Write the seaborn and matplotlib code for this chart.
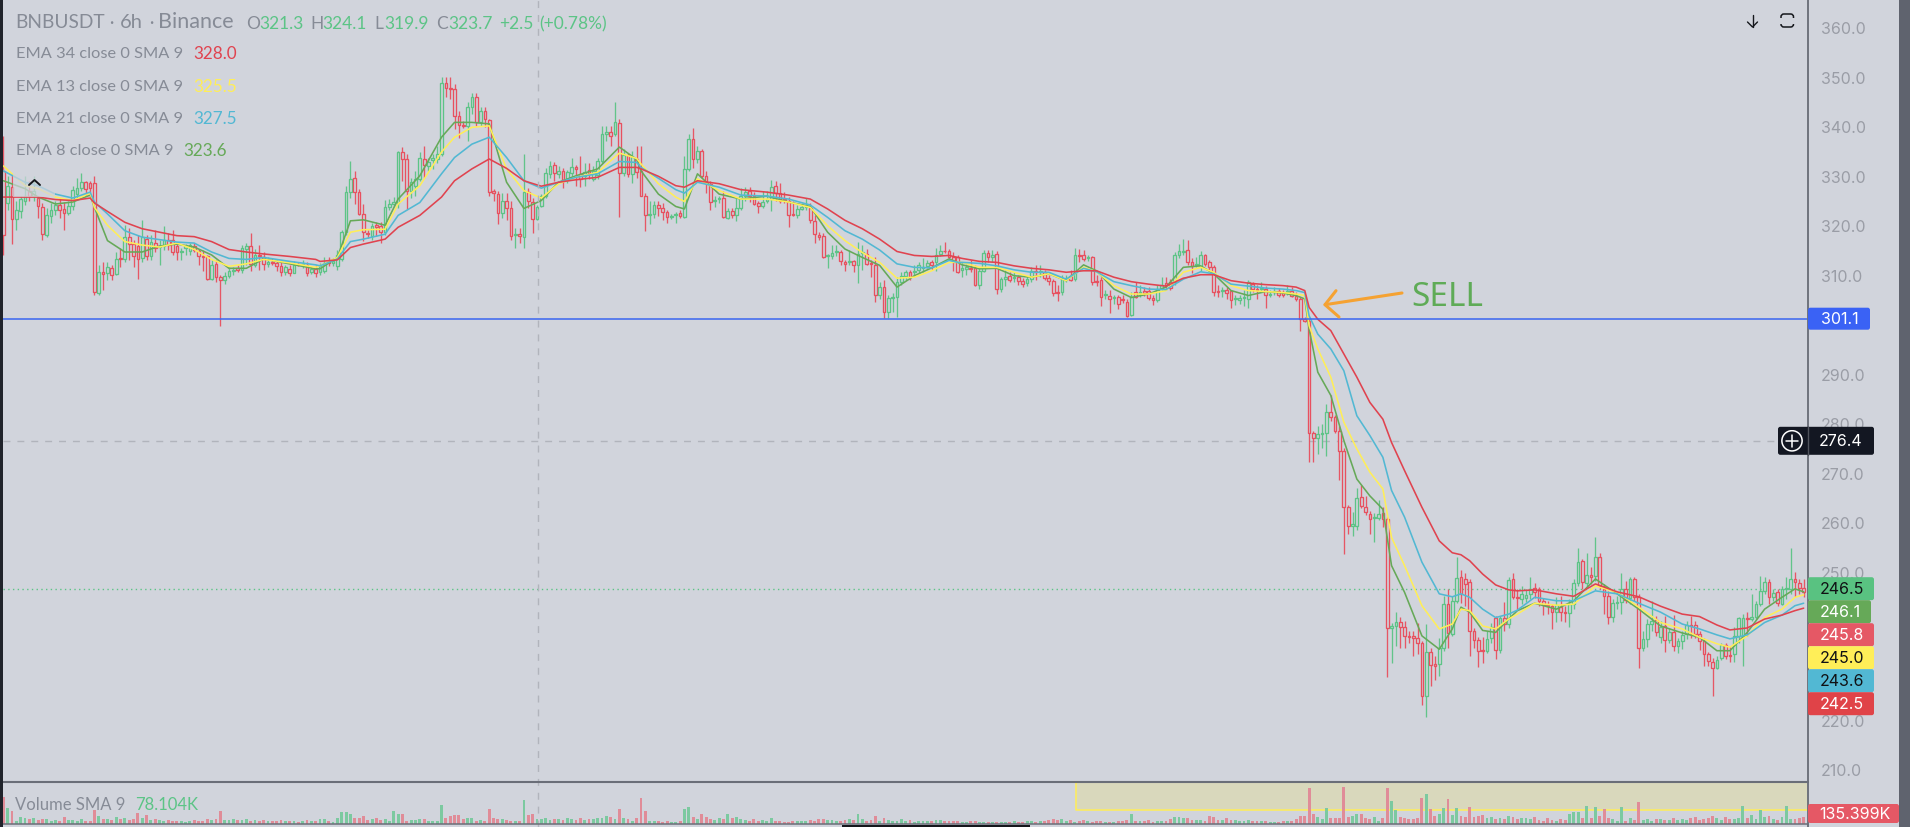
import matplotlib
matplotlib.use("Agg")
import matplotlib.pyplot as plt
import pandas as pd
import seaborn as sns
from matplotlib.lines import Line2D
from matplotlib.patches import Circle, FancyBboxPatch, Rectangle

# --- Data ---
OPENS = [
    331,324.5,327.7,321.3,322.8,325,327,326,325.5,323.6, 318,321.8,323,324,323.2,322.4,323.9,326.3,327.5,328.7,
    328.5,328.5,306.4,310.6,310.4,311.4,310.1,313.4,313.1,317.7, 316.2,315.8,313.3,317.2,313.7,316.4,315.6,315.8,317.1,317,
    315.9,314.6,315.5,314.9,315.9,314.9,313.8,313.7,309.1,312.2, 309.5,308.9,309.7,310.8,311.3,310.9,315.2,315.8,312,314,
    313.6,312.1,312.6,312.3,311.7,310.5,311.2,310.4,312.2,311.9, 312,310.6,311.1,310.5,310.7,312.6,312.4,311.8,313.2,318.6,
    326.7,329.5,326.7,322.3,318.5,317.9,320,319.9,318.6,323.7, 324.4,324.6,334.8,333.3,327,328,329.4,333.4,332,333.1,
    333.4,334.4,348.8,347.8,347.5,342,340.2,340.1,344,346, 340.8,343,341.3,326.9,326.4,322.5,325,323.4,318,318.2,
    317.6,326.8,324.8,321.3,323.8,326,330.4,332.2,330.4,330.9, 329.4,330.5,331.7,330.4,330,331.1,329.4,330.2,332.9,338.5,
    338.8,338.5,340.7,330.6,334.2,330.4,333.4,331,325.9,322.1, 322.3,324.1,323.4,322.6,321.7,322,322.4,321.7,331.4,337.5,
    333.3,335,329.9,328.4,324.9,325.3,325.5,321.4,322.8,322, 323.4,325.9,327,326,324.5,323.8,325,325.3,327.9,326.5,
    325.4,325,322.2,322,323.2,323.7,323.5,320.9,318,317.8, 313.7,313.7,314.6,314.5,312.5,312.5,312.7,312,314.3,314.2,
    312.4,312,305.9,307.5,302.4,305.3,305.4,308.6,309.7,310.6, 310.5,310.9,311.3,311.7,312.5,312.5,314.2,314.9,314.7,313.6,
    313.5,311,311.2,311.4,311.3,308,310.8,314.4,313.5,314.2, 307.1,309.2,309.7,309.3,309.5,308.8,308.3,309.1,310.8,310.5,
    310.5,309.3,308.8,306.5,306.5,309.1,309.8,309.1,314,313.9, 313.3,313.5,308.8,309,306,305.8,305.2,305.5,305,304.5,
    301.9,306.5,306.3,306.8,306.7,305.2,304.8,307.4,308.3,308.5, 308.5,313.9,314.6,315.1,312.6,312,311.7,313.9,312.5,311.5,
    306.7,306.7,307,306.8,305,304.8,305.3,305,308.1,307.2, 307.1,307.1,306,306.6,306.8,306.5,306.5,306.8,305.8,305,
    301.1,300.7,278.1,276.9,277.8,278.1,282.3,281.2,278.5,274.4, 263,259.2,259.3,265,263,261.6,260.8,260.8,261.8,260.6,
    238.6,239,239.9,238.7,237,236.9,236.6,235.5,224.9,233.7, 231.3,231.3,234.5,243.5,237.4,244.1,248.8,248.4,247.8,237.9,
    236.2,234.1,234,236.5,240.7,234.1,240.7,239.4,248.4,244.9, 244.4,244.6,245.5,246.6,246.5,244.1,243.3,243.1,241.9,242.9,
    241.9,241.6,243.4,247.7,252.2,247.7,249.4,249.2,252.9,246.5, 245.1,240.9,243.6,243.9,246.5,244.6,248.5,244.8,234.5,236.4,
    239.4,240.3,236.7,238.9,236.2,237.8,234.9,236,237.4,239.2, 239.2,237.4,235.9,233.3,231.8,230.6,232.5,235.1,233.2,233.3,
    236.9,237,240.7,240.5,240.8,243.4,246.1,247.8,244.9,245.8, 243.5,246.5,246.5,248.5,247.7,246.6,
]
CLOSES = [
    318,328,321.3,323,325.3,326,326,327,323.9,318.3, 322,323,324,323,322.4,323.8,327.2,327.5,328.7,327.4,
    327.6,306.6,310.6,310.2,311.5,310,313.2,313.1,317.6,316.2, 313.7,313.2,317.6,313.7,316.6,315.4,315.8,317.1,316,314.5,
    314.6,314.9,315.8,316,315,313.7,313.6,309.2,312,309.5, 308.9,309.7,310.8,311,311,315.4,315.8,312.2,314,313.8,
    312.2,312.6,312.4,311.7,310.5,311.5,310.4,311.9,311.9,312.2, 310.4,311.2,310.3,311.8,312.3,312.4,312.7,313.9,318.6,326.7,
    329.4,326.7,322.3,318.6,318.2,319.9,319.6,318.6,323.6,324.4, 324.8,334.8,333.3,327,328.7,329.4,333.5,332.2,332.8,333.5,
    334.4,348.8,347.7,347.5,342,340.3,340,344,345.9,340.8, 343.2,341.5,326.8,326.6,322.5,325,323.4,317.9,318.2,317.9,
    326.8,325,321.3,323.6,325.9,330.5,332,330.6,331,329.2, 330.7,331.7,331.3,329.4,330.7,330.5,331,332.9,338.5,338.8,
    338,340.8,330.6,334.2,330.4,333.9,330.8,326,322.1,322.3, 324.1,323.4,322.6,321.6,321.9,322.3,321.8,331.4,337.5,333.3,
    335,329.9,328.6,324.7,325.1,325.6,321.6,322.8,322,323.4, 325.9,326.8,325.9,324.3,323.8,324.8,325.4,327.8,326.5,325,
    325.1,322.1,322,323.2,323.7,323.9,321,318.3,317.6,313.5, 313.9,314.4,314.8,312.7,312.1,312.7,312,314.2,314.5,312.2,
    312.1,305.9,307.5,302.4,305.2,305.5,308.5,309.7,310.6,309.5, 310.8,311.9,311.6,312.4,312,314,314.7,314.7,313.5,312.6,
    310.6,311.3,311.5,311.2,308,310.8,314.4,313.5,314,307.1, 309.1,309.5,309,309.5,308.8,308.1,309.1,310.8,310.5,310.7,
    309.3,308.8,306.4,306.3,309.1,309.3,309,313.9,313.7,313.2, 313.6,308.5,308.6,305.6,306.2,305,305.5,304.1,304.8,301.7,
    305.4,305.6,306.6,306.4,305.2,304.8,307.2,307.9,308,307.4, 313.9,314.9,314.8,312.6,311.7,312.2,313.9,312.2,311.5,306.6,
    306.5,306.9,306.3,304.8,305.2,305.2,305.5,308.5,307.1,307, 307.3,305.9,306.2,306.8,305.9,305.9,306.8,305.8,305.1,301.1,
    300.7,278.1,276.9,277.8,278.1,282.3,281.2,278.5,274.4,263, 259.3,259.6,264.8,263.2,262,260.6,261,261.6,260.6,238.5,
    239,239.9,238.7,236.9,236.8,236.6,235.5,224.9,233.7,231.1, 231,234.5,243.5,237.6,244.1,248.6,245.5,247.5,237.9,236.2,
    234,233.9,236.4,238.7,234.2,240.7,239.4,248.3,244.8,244.6, 245.4,245.3,246.5,245.8,244.1,243.2,243.1,241.9,243.2,241.8,
    241.7,243.4,247.7,252,247.8,249.3,248.8,252.9,247,245.1, 240.9,243.6,243.8,246.5,244.3,248.5,244.8,234.5,236.4,239.4,
    240.1,237.7,238.7,236.2,237.8,234.9,236,237.2,239.2,238.9, 237.4,236,233.3,232,230.6,232.2,235.1,233,233,236.9,
    240.6,240.7,240.4,240.8,243.4,246.1,247.8,244.8,245.7,243.6, 246.5,246.6,248.5,247.8,246.6,245.8,
]
HIGHS = [
    338,330,330.4,325,326,330,329,330,326,324.5, 323.5,324.5,325,325.5,324.7,325,328,329.5,330.5,329,
    329,330,312,312.5,312.5,312,314.5,315.5,320,319.5, 317,318,321,318,318,319,317,319.8,318.5,319,
    316.5,315.5,316.2,316.5,316.5,315.3,315,314,313,313, 310,310.5,311.5,311.6,312,316,316.5,318.5,315.3,316,
    314.5,313.5,313.3,313,312.5,312,312,312.7,312.5,313, 312.5,311.8,312,312.3,313.5,313.5,313.4,315,319,328,
    332.9,331,327.3,324.3,319,320.5,320.6,320.6,325.2,325.3, 325.8,335,335.8,334.4,329.5,331,334.8,336,333.5,334.4,
    336,350,350,349.9,348.5,343,341,345,346.8,346.8, 344,344,341.5,327.3,327,326.5,326.5,325,319.5,319.5,
    334.5,327.5,325.5,324,326.3,331.5,333,332.7,332,331.5, 331.2,333.5,332.2,334,332.5,332.5,332,333.6,340,340,
    340,345,341.5,335.5,334.7,335,336,336,326.5,325, 325,325,324.5,323,322.3,322.7,323,334,338.5,339.6,
    336,335.5,331,329,326,326,327,323.5,323.5,325.5, 327.5,327.7,327.7,326.7,325,327,327,329.2,329,328.5,
    326.8,325.8,325,324,324.5,325.5,324.5,322,318.6,318.5, 314.2,316,316,315,313,315,313,316.7,316,315.2,
    313,313.5,308.5,309,306,306.3,309.5,310.5,311,311, 312,312.5,313.3,313,313,315.5,316,316.6,315.2,314.5,
    314,312.5,312.2,313,312,311.5,315,315,315,314.7, 309.5,311,310.5,310.5,310,309.3,309.7,311.5,312,312,
    311,310,309.2,308,310,310,311,315.5,315.3,315, 314,313.8,310,309.5,307,307,306,306,306,305,
    306.5,308.5,308,307.5,307.5,306,308,309.5,309.5,309.2, 314.5,316.3,317.3,317,313.3,313.5,314.8,314.2,313,312,
    308,307.5,307.5,307,306,306,307,309,308.5,308, 308.5,307.8,307,307.5,307.3,307,308,307.5,306.5,305.5,
    301.5,301,278.5,279.5,279.8,283.8,285.7,281.7,279.5,275, 263.5,262,266.8,267.5,265.2,262.2,261.8,264.5,263,261,
    239.6,241.8,240.9,240,238,238,239.6,236,239.5,234.5, 233,236.5,245,246.5,245,252.9,250.3,249.8,248.5,238.5,
    236.8,236.8,238,239.6,241,241,243.9,249,249.8,246.5, 247,246.5,248.8,247.7,246.9,244.6,244,243.5,244.8,245,
    243,244.5,248.5,254.8,252.5,253.8,251,256.9,253.8,247.5, 246,244.5,245,249.8,248,248.9,248.9,245.5,238,240.5,
    244,241,240,241,238.5,241.3,236.5,238,240,241.1, 240,238,236.5,233.8,232.5,233,235.6,235.5,235,238.8,
    240.9,241.5,241.8,245.5,244,249.2,249,248.5,246.5,246.5, 247,248.8,254.7,250,248.5,248.5,
]
LOWS = [
    314,323,316.2,319,321.5,324,325,325,321.5,317, 317.7,320.5,322,321.5,319,322,323,325.5,327,326,
    326.5,306,306,307,309,308.9,310,311.5,312.6,313, 311.5,309.2,312.5,313,313,314.5,312,315,315,314,
    313,313,314,314,314.5,312,310.8,309,308.9,308.5, 299.6,308.2,309.3,310,310.5,310.3,312,310.7,311.5,311,
    311,311.5,311.9,310.8,309.8,310,309.8,310.3,311.7,311.4, 309.8,310.2,309.6,310,310.4,311.8,311.7,311,312.7,318,
    325.5,324.2,322,316.8,317.5,317,317.8,316.5,318,323, 323.8,323.5,329,323.2,325.5,326,329,329.5,331,331.3,
    332.5,334,346,345.5,339.5,337.6,339.6,337,342.5,340, 340,339.8,326,325,320.3,321.5,321,317,315.5,316.5,
    315.5,323.5,318.5,321,323.6,325.5,329.5,329,329.5,327.5, 328.5,329.5,328,327.8,328,329.3,329,329.4,332.5,337,
    336,338,321.6,330,329.8,328.5,329.5,326,318.8,320.3, 321.5,321.8,321,320.5,321.3,320.5,321.5,321.4,331,331.5,
    332.5,329.5,326.5,323,323.7,324.5,321.5,321.3,321.5,320.8, 323,325,324.8,324,322.5,323.5,324.5,322.8,325,324.5,
    324.5,319.6,321.8,321.5,323,323,320.5,316.5,317,313.3, 311.3,313.2,313.8,312,310.8,312,310.5,308.3,311,312,
    309.5,304.5,305,301.2,301.2,302.5,301.5,308,309,309, 309.5,310.3,310.5,311.3,310.9,310.8,313.8,314.3,313,310.8,
    310.3,309.5,310,310.5,307.7,307.2,310.5,312.5,312.5,306.2, 306.5,307.8,308.5,308.5,308,307.5,307.8,308.5,309,309.5,
    309,308,305.7,304.6,306,308.5,308.7,308.8,312.5,312.8, 312.8,308,307.8,303.7,305,302.3,304,303,304.2,301.5,
    301.7,305.2,305.5,305.8,304.8,303.8,304.5,306.9,307,307, 308,313.3,314,312,310.3,311.5,310.8,311.8,311,305.8,
    305.6,305.5,305,303.3,303.8,304,303.7,303.3,306.5,305, 306.5,303.3,305.5,306,305.6,305.6,306,305.5,304.6,298.7,
    300.4,272.2,272.2,273.8,275,273.4,280.5,278,268.5,253.5, 257.5,257.2,258.4,262.8,261.5,257.5,255.9,260.4,259,228.6,
    231.6,235,234.5,234.6,235.5,233,233.3,223,220.5,226.8, 228,228.8,234,234.5,237,243.6,243.6,243,233,234.5,
    230.8,231.5,233.5,235.5,232.4,233.5,238,238.5,244.5,242.4, 243.5,243.9,244.5,244.6,243,241.3,241.5,238.3,239.8,240,
    239.9,238.8,242.5,247,246.5,246.8,247.5,248,246.5,241.5, 239.5,239.8,242.5,241.5,243.7,243.5,244,230.5,234,234.7,
    238,237,235.5,233.8,235.5,233.9,233.5,234.3,236.3,236.5, 236.5,234.2,231,231,224.8,230.3,232.2,232.3,231.7,231.8,
    235.5,231,237,240,240.5,243,245.5,243.5,244,243, 243.2,244.5,245.5,244.9,245.5,244.9,
]
VOLUMES = [
    500,290,250,60,130,110,90,120,80,100, 90,60,70,60,130,70,80,60,90,60,
    50,260,150,90,100,80,130,90,110,70, 90,200,120,170,80,100,70,60,70,50,
    55,50,45,60,70,60,60,90,80,100, 240,80,70,100,80,70,90,60,70,60,
    70,50,50,60,70,50,60,60,40,50, 70,50,50,100,90,60,40,110,220,230,
    190,120,110,140,70,90,120,80,90,60, 240,190,190,60,70,80,90,90,50,60,
    60,350,120,150,170,160,90,110,110,60, 70,60,270,110,90,90,70,60,50,60,
    450,160,190,90,100,110,70,90,100,70, 110,90,80,110,80,100,100,110,120,140,
    130,90,270,110,100,60,120,480,240,60, 60,50,40,60,30,40,60,270,310,130,
    100,180,130,100,80,110,100,190,110,130, 100,80,50,90,60,70,60,110,50,60,
    40,40,60,50,50,60,70,60,90,90, 80,70,60,50,80,90,80,180,90,60,
    80,140,60,110,70,60,60,90,50,70, 40,60,50,50,60,80,70,60,60,50,
    50,40,40,50,50,40,40,40,40,40, 40,30,30,50,40,40,50,50,40,60,
    60,70,90,70,90,50,70,40,50,70, 60,40,60,50,40,40,40,60,60,70,
    190,60,50,60,70,40,50,50,60,90, 130,130,120,110,70,70,80,60,140,130,
    70,70,110,70,70,50,60,70,50,60, 50,50,30,40,40,60,60,60,90,140,
    140,670,190,130,100,290,120,120,110,690, 130,150,180,190,120,100,130,60,110,670,
    430,260,130,110,90,100,120,480,560,280, 150,180,290,470,170,290,140,130,310,130,
    150,170,110,130,100,110,90,150,130,90, 120,110,90,130,70,60,110,80,60,90,
    70,190,220,230,120,330,120,310,150,280, 110,100,60,320,60,110,70,400,70,90,
    60,100,90,70,80,120,80,90,70,110, 130,80,90,110,150,120,70,130,90,100,
    120,340,120,170,90,260,130,150,100,80, 130,340,100,90,120,135,
]
EMA_IDX = [
    0,5,8,12,16,20,21,24,28,32,36,40,44,48,52,56,60,66,72,
    73,77,80,83,88,91,96,101,104,108,112,116,120,124,128,132,137,142,146,
    147,151,155,157,160,165,170,176,181,186,190,194,198,202,206,210,214,218,220,
    221,225,229,233,237,241,245,249,252,256,260,264,268,272,276,279,283,287,291,295,298,300,
    301,303,306,309,312,315,318,320,323,327,331,334,336,338,341,344,347,349,
    353,358,362,367,372,377,382,387,391,395,398,402,406,410,413,415,
]
EMA_34 = [
    325.7,325.7,325.7,325.2,325,325.5,324.5,322.8,320.6,319.3,318.6,317.9,317.7,316.7,315.1,314.6,314.2,313.7,313.1,
    312.7,313,315.5,316.2,317.2,319.6,322,325.7,329,331.4,333.4,331.5,329,327.9,328.7,329.2,329.7,331.7,331.7,
    331.4,329.9,328,327.7,329,328.4,327.2,326.7,326.1,325.3,323.3,321,319.3,317.2,314.7,313.9,313.7,313.9,313.5,
    313.3,312.7,312.5,311.8,311.3,311,310.5,310.8,310.8,309.5,308.6,308.1,307.7,309.3,310,310,308.8,308.3,308,307.8,307.5,306.8,
    303.4,301,298.7,294,289.3,284.2,280.8,276.1,270.4,263,256.2,253.8,253.4,252.2,249.5,247.3,246.3,246.1,
    246.3,245.5,245,247.5,245.9,244.9,243,241.4,240.9,239.2,238.2,238.6,240.4,241.2,242.1,242.6,
]
EMA_21 = [
    331,328.7,328,326.3,325.5,326.7,324.7,322.3,318.9,317.6,317.1,316.6,316.4,314.6,313.3,313.1,313.5,312.7,312,
    311.8,313.2,316.7,317.2,318.2,322,324.6,330.4,333.7,336.4,337.8,333.7,329,327.5,328.7,329.7,330.4,332.9,332.7,
    331.7,329.5,327.2,326.5,328.7,327.7,326.1,325.9,325.3,324.1,321.6,318.9,317.2,315,312.2,311.5,311.4,312.9,312.5,
    312.5,312.3,311.8,311,310.5,310.5,309.1,311.3,310.6,308.6,307.8,307.1,307,309.1,310.6,310.2,308.1,307.7,307.3,307.1,306.8,306.4,
    301.7,298,295,290.6,281.5,277.5,273.1,266.4,261,251.9,245.5,244.9,245.5,244.8,242.4,240.7,241.4,242.2,
    244.8,244.1,244.1,246.1,245.5,243.6,241.8,239.4,238.4,237.2,236.4,237.2,239.7,241.2,243.1,243.6,
]
EMA_13 = [
    332,328,327.4,325.7,325,326.5,323.6,320,316.7,316,315.6,316.4,315.1,313.1,311.7,312.2,313.1,312.4,311.5,
    311.8,313.5,318.6,319.1,319.2,324.3,328,334.8,337.8,339.8,340.1,331.4,327,325.5,328.4,329.7,330.7,334.6,333.5,
    332.4,328.4,325.7,324.8,329.4,327,325.3,325.3,324.7,323.6,319.9,316.9,314.5,312.5,309.3,309.5,310.8,312.5,312.5,
    312.5,311.5,311.5,310.5,309.5,310.2,308.8,311.5,310.6,307.8,306.1,306.1,306.8,310.5,311.5,310.5,307.8,306.8,306.6,306.4,306.1,305.8,
    299.7,295,289.3,280.2,274.8,270.1,266.7,256.9,251.2,243.1,238.4,239.4,242.4,242.1,239,238.4,240.4,241.4,
    243.6,243.2,243.4,247.1,245.8,242.8,239.7,238.4,236.7,235.4,234.7,237,240.7,242.4,244.8,245.3,
]
EMA_8 = [
    329,327.4,325.7,324.3,324.7,326.1,323.6,316.9,314.6,314.6,315.8,316.2,315.6,314,311.3,311.3,313.2,312.2,311.2,
    311.2,313.5,320.9,321.1,320,325.3,330,337.8,340.8,340.8,340.5,328.7,323.4,325,328.7,330,331.4,335.8,333.3,
    331,326.3,323.8,323.3,330.4,326.3,325.3,325.9,324.7,323.8,318.6,315.2,313.5,311.9,307.5,309.8,311.4,313.2,312.5,
    312,311.2,311.3,309.8,309.5,310.2,308.8,312,310.8,307.1,305.4,306.1,307.5,311.5,311.8,310.2,306.8,305.8,306.6,306.3,305.8,305.1,
    299,290.3,285.6,276.5,268.7,265.3,262.6,251.2,245.8,237,234.3,238.4,242.8,241.8,238.1,237.7,240.4,242.1,
    243.6,242.4,244.1,248.5,245.5,242.4,239,237.6,236.7,234,234,237.7,242.4,244.8,246.5,245.9,
]
# 300, 240 and 230 sit behind the price tags in the screenshot
PRICE_TICKS = [360, 350, 340, 330, 320, 310, 290, 280, 270, 260, 250, 220, 210]
LEVEL_PRICE = 301.1
CROSS_PRICE = 276.4
LAST_PRICE = 246.5

# --- Configuration ---
W, H = 1910, 828
BG = '#d1d4dc'
UP = '#5cc486'
DOWN = '#e8505f'
GREY = '#868b96'
AXIS_GREY = '#9a9da6'
C_34, C_21, C_13, C_8 = '#e0434f', '#52b8d3', '#ffee58', '#66a958'
PANE_LEFT, PANE_RIGHT, PANE_SPLIT = 2.5, 1808, 783


def fx(x):
    return x / W


def fy(y):
    return 1 - y / H


def label(x, y, s, color=GREY, size=12, weight='normal', ha='left', family=None, z=30):
    kw = {'family': family} if family else {}
    return fig.text(fx(x), fy(y), s, color=color, fontsize=size, fontweight=weight, ha=ha, va='center', zorder=z, **kw)


def price_box(x0, x1, yc, h, color, text, text_color, size=11.5):
    fig.add_artist(FancyBboxPatch((fx(x0), fy(yc + h / 2)), fx(x1 - x0), h / H,
                                  boxstyle='round,pad=0,rounding_size=0.0012', mutation_aspect=W / H,
                                  transform=fig.transFigure, fc=color, ec='none', zorder=20))
    if text:
        label((x0 + x1) / 2 + 1, yc, text, color=text_color, size=size, ha='center', family='Inter', z=31)


sns.set_theme(style='white')
plt.rcParams['font.family'] = ['Lato', 'DejaVu Sans']

fig = plt.figure(figsize=(W / 100, H / 100), dpi=100, facecolor=BG)
ax = fig.add_axes([fx(PANE_LEFT), fy(PANE_SPLIT), fx(PANE_RIGHT - PANE_LEFT), PANE_SPLIT / H], facecolor=BG)
vol_ax = fig.add_axes([fx(PANE_LEFT), fy(825), fx(PANE_RIGHT - PANE_LEFT), (825 - PANE_SPLIT) / H], facecolor=BG)

# --- Candles ---
idx = list(range(len(OPENS)))
colors = [UP if c >= o else DOWN for o, c in zip(OPENS, CLOSES)]
ax.vlines(idx, LOWS, HIGHS, colors=colors, lw=0.95, alpha=0.95, zorder=2)
ax.bar(idx, [abs(c - o) for o, c in zip(OPENS, CLOSES)], bottom=[min(o, c) for o, c in zip(OPENS, CLOSES)],
       width=0.62, facecolor=BG, edgecolor=colors, linewidth=0.95, zorder=3)

# --- EMA lines ---
for values, color, z in [(EMA_8, C_8, 4), (EMA_13, C_13, 5), (EMA_21, C_21, 6), (EMA_34, C_34, 7)]:
    sns.lineplot(x=EMA_IDX, y=values, color=color, linewidth=1.15, estimator=None, errorbar=None, ax=ax, zorder=z)

ax.axhline(LEVEL_PRICE, color='#3a66f0', lw=1.1, zorder=8)
ax.axhline(LAST_PRICE, color=UP, lw=1.0, ls=(0, (1, 2.4)), zorder=1)
ax.set_xlim(-0.2, 416)
ax.set_ylim(207.46, 365.74)
ax.set_xticks([])
ax.set_yticks(PRICE_TICKS, [f'{p:.1f}' for p in PRICE_TICKS], family='Inter')
ax.yaxis.tick_right()
ax.tick_params(axis='y', length=0, pad=9, labelsize=11.5, labelcolor=AXIS_GREY, zorder=1)
ax.set(xlabel='', ylabel='')

# --- Volume pane ---
vol_df = pd.DataFrame({'i': idx, 'vol': VOLUMES, 'side': ['up' if c == UP else 'down' for c in colors]})
sns.barplot(data=vol_df, x='i', y='vol', hue='side', palette={'up': '#7cc9a0', 'down': '#e08c98'},
            native_scale=True, dodge=False, width=0.66, saturation=1, legend=False, linewidth=0, ax=vol_ax, zorder=3)
vol_ax.set_xlim(-0.2, 416)
vol_ax.set_ylim(0, 780)
vol_ax.set_xticks([])
vol_ax.set_yticks([])
vol_ax.set(xlabel='', ylabel='')
vol_ax.add_patch(Rectangle((fx(1075.5), fy(811)), fx(PANE_RIGHT - 1075.5), 27 / H, transform=fig.transFigure,
                           fc='#d9d8bc', ec='none', zorder=1))
vol_ax.add_line(Line2D([fx(1075.5), fx(1075.5), fx(PANE_RIGHT)], [fy(784), fy(811), fy(811)], color=C_13, lw=1.1,
                       transform=fig.transFigure, zorder=2))

for a in (ax, vol_ax):
    for name in ('top', 'left', 'bottom', 'right'):
        a.spines[name].set_visible(False)

# --- Borders, crosshair ---
fig.add_artist(Rectangle((0, 0), fx(PANE_LEFT), 1, transform=fig.transFigure, fc='#20232b', ec='none', zorder=15))
fig.add_artist(Rectangle((fx(1899), 0), fx(11), 1, transform=fig.transFigure, fc='#5f636e', ec='none', zorder=15))
fig.add_artist(Rectangle((fx(842), 0), fx(188), 2 / H, transform=fig.transFigure, fc='#15171c', ec='none', zorder=15))
fig.add_artist(Line2D([fx(1808), fx(1808)], [0, 1], color='#6f737d', lw=1.4, zorder=14))
fig.add_artist(Line2D([fx(PANE_LEFT), fx(1808)], [fy(PANE_SPLIT)] * 2, color='#6a6e78', lw=1.5, zorder=14))
fig.add_artist(Line2D([fx(PANE_LEFT), fx(1808)], [fy(825)] * 2, color='#6a6e78', lw=1.1, zorder=14))
fig.add_artist(Line2D([fx(537.5)] * 2, [0, 1], color='#b1b4bc', lw=1.0, ls=(0, (5, 5)), zorder=9))
ax.axhline(CROSS_PRICE, color='#b1b4bc', lw=1.0, ls=(0, (5, 5)), zorder=1)

# faded patch behind the collapse button
fig.add_artist(Rectangle((fx(13), fy(198)), fx(42), 25 / H, transform=fig.transFigure, fc=BG, ec='none', alpha=0.72, zorder=12))
fig.add_artist(Line2D([fx(29), fx(34.5), fx(40)], [fy(186), fy(181), fy(186)], color='#15171c', lw=1.4, zorder=13))

# --- Annotation ---
fig.add_artist(Line2D([fx(1402), fx(1325)], [fy(294), fy(305.7)], color='#f5a232', lw=2.2, zorder=13))
fig.add_artist(Line2D([fx(1336), fx(1325), fx(1339)], [fy(291.7), fy(305.7), fy(318)], color='#f5a232', lw=2.2, zorder=13))
label(1411, 298, 'SELL', color='#5fab57', size=24, family='Noto Sans')

# --- Legend text ---
label(15.5, 22.5, 'BNBUSDT', size=13.8)
label(119.5, 22.5, '6h', size=14.5)
label(158, 22.5, 'Binance', size=15.5)
label(109, 22.5, '·', size=12)
label(149, 22.5, '·', size=12)
for x, s, c in [(246, 'O', GREY), (259, '321.3', UP), (310, 'H', GREY), (322.5, '324.1', UP), (374, 'L', GREY),
                (384.5, '319.9', UP), (436, 'C', GREY), (448, '323.7', UP), (499, '+2.5', UP), (539, '(+0.78%)', UP)]:
    label(x, 24, s, color=c, size=12.5)
for y, s, v, c, vx in [(54, 'EMA 34 close 0 SMA 9', '328.0', C_34, 193), (86.7, 'EMA 13 close 0 SMA 9', '325.5', C_13, 193),
                       (118.7, 'EMA 21 close 0 SMA 9', '327.5', C_21, 193), (151, 'EMA 8 close 0 SMA 9', '323.6', C_8, 183.5)]:
    label(15.5, y, s, size=11.8)
    label(vx, y, v, color=c, size=12.3)
label(15, 805.5, 'Volume SMA 9', size=12)
label(135, 805.5, '78.104K', color=UP, size=12)

# --- Price tags on the axis ---
price_box(1808, 1870, 319.7, 22, '#3a62f5', '301.1', 'white')
price_box(1778, 1874, 441.8, 28, '#131722', '', 'white')
label(1841, 441.8, '276.4', color='white', size=11.5, ha='center', family='Inter', z=31)
fig.add_artist(Line2D([fx(1807.5)] * 2, [fy(428), fy(455.6)], color='#50535c', lw=1.0, zorder=22))
fig.add_artist(Line2D([fx(1786), fx(1798)], [fy(441.8)] * 2, color='white', lw=1.1, zorder=23))
fig.add_artist(Line2D([fx(1792)] * 2, [fy(435.8), fy(447.8)], color='white', lw=1.1, zorder=23))
circle_ax = fig.add_axes([fx(1781), fy(452.8), 22 / W, 22 / H], facecolor='none', zorder=23)
circle_ax.add_patch(Circle((0.5, 0.5), 0.46, fill=False, ec='white', lw=1.1))
circle_ax.set_axis_off()
for yc, color, s, tc, x1 in [(589.7, '#59c281', '246.5', '#101114', 1874), (612.7, '#66a958', '246.1', 'white', 1871),
                             (635.7, '#e55865', '245.8', 'white', 1874), (658.7, '#ffee58', '245.0', '#101114', 1874),
                             (681.7, '#52b8d3', '243.6', '#101114', 1874), (704.7, '#e04348', '242.5', 'white', 1874)]:
    price_box(1808, x1, yc, 23, color, s, tc)
price_box(1808, 1899, 814.5, 19, '#e55865', '135.399K', 'white', size=11.5)

# --- Top right icons ---
fig.add_artist(Line2D([fx(1752.5)] * 2, [fy(16), fy(28)], color='#15171c', lw=1.0, zorder=13))
fig.add_artist(Line2D([fx(1747.5), fx(1752.5), fx(1757.5)], [fy(23), fy(28), fy(23)], color='#15171c', lw=1.0, zorder=13))
fig.add_artist(FancyBboxPatch((fx(1781), fy(28)), fx(12.5), 13 / H, boxstyle='round,pad=0,rounding_size=0.0015',
                              mutation_aspect=W / H, transform=fig.transFigure, fill=False, ec='#15171c', lw=1.1, zorder=13))
fig.add_artist(Rectangle((fx(1779), fy(24.5)), fx(3.5), 6 / H, transform=fig.transFigure, fc=BG, ec='none', zorder=13.5))
fig.add_artist(Rectangle((fx(1792), fy(24.5)), fx(3.5), 6 / H, transform=fig.transFigure, fc=BG, ec='none', zorder=13.5))

fig.savefig('out.png', dpi=100, facecolor=BG)
